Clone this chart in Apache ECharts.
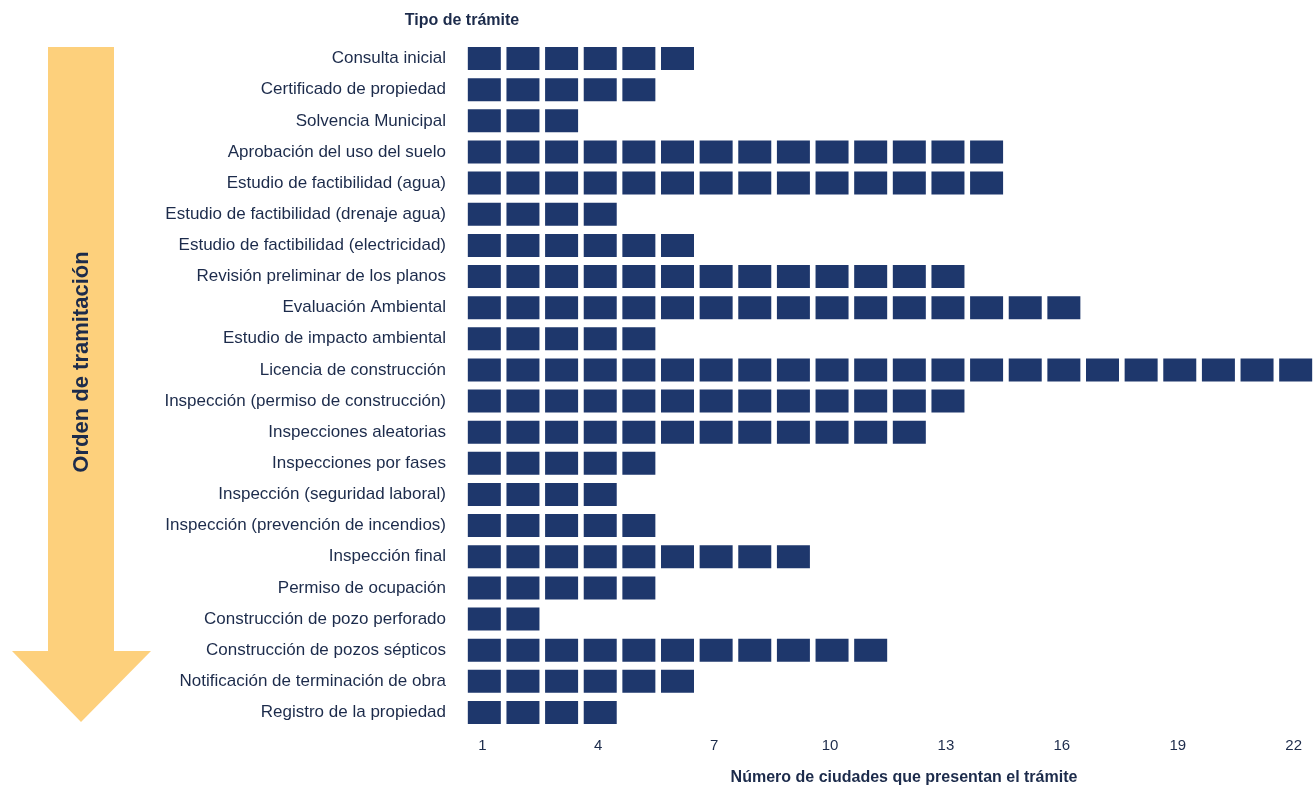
<!DOCTYPE html>
<html>
<head>
<meta charset="utf-8">
<script src="https://cdn.jsdelivr.net/npm/echarts@6/dist/echarts.min.js"></script>
<style>
html,body{margin:0;padding:0;background:#ffffff;}
#chart{width:1315px;height:785px;}
</style>
</head>
<body>
<div id="chart"></div>
<script>
const categories = [
  'Consulta inicial',
  'Certificado de propiedad',
  'Solvencia Municipal',
  'Aprobación del uso del suelo',
  'Estudio de factibilidad (agua)',
  'Estudio de factibilidad (drenaje agua)',
  'Estudio de factibilidad (electricidad)',
  'Revisión preliminar de los planos',
  'Evaluación Ambiental',
  'Estudio de impacto ambiental',
  'Licencia de construcción',
  'Inspección (permiso de construcción)',
  'Inspecciones aleatorias',
  'Inspecciones por fases',
  'Inspección (seguridad laboral)',
  'Inspección (prevención de incendios)',
  'Inspección final',
  'Permiso de ocupación',
  'Construcción de pozo perforado',
  'Construcción de pozos sépticos',
  'Notificación de terminación de obra',
  'Registro de la propiedad'
];
const cityCounts = [6, 5, 3, 14, 14, 4, 6, 13, 16, 5, 22, 13, 12, 5, 4, 5, 9, 5, 2, 11, 6, 4];
const xTickLabels = ['1','2','3','4','5','6','7','8','9','10','11','12','13','14','15','16','17','18','19','20','21','22'];

const NAVY = '#1e376c';
const TEXT = '#1c2b4b';
const FONT = '"Liberation Sans", Arial, sans-serif';

// one square per city: build points from the counts
const points = [];
cityCounts.forEach((n, row) => {
  for (let i = 0; i < n; i++) points.push([xTickLabels[i], categories[row]]);
});

const chart = echarts.init(document.getElementById('chart'));
chart.setOption({
  animation: false,
  backgroundColor: '#ffffff',
  textStyle: { fontFamily: FONT },
  title: [
    { text: 'Tipo de trámite', left: 457, top: 8, textAlign: 'center',
      textStyle: { fontFamily: FONT, fontSize: 16, fontWeight: 'bold', color: TEXT } },
    { text: 'Número de ciudades que presentan el trámite', left: 899, top: 765, textAlign: 'center',
      textStyle: { fontFamily: FONT, fontSize: 16, fontWeight: 'bold', color: TEXT } }
  ],
  grid: { left: 465, top: 43, width: 855, height: 685, containLabel: false },
  xAxis: {
    type: 'category',
    data: xTickLabels,
    axisLine: { show: false },
    axisTick: { show: false },
    splitLine: { show: false },
    axisLabel: { interval: 2, margin: 10, fontSize: 15, color: TEXT, fontFamily: FONT, padding: [0, 4, 0, 0] }
  },
  yAxis: {
    type: 'category',
    data: categories,
    inverse: true,
    axisLine: { show: false },
    axisTick: { show: false },
    splitLine: { show: false },
    axisLabel: { margin: 19, fontSize: 17, color: TEXT, fontFamily: FONT }
  },
  graphic: [
    { type: 'polygon', silent: true,
      shape: { points: [[48,47],[114,47],[114,651],[151,651],[81,722],[12,651],[48,651]] },
      style: { fill: '#fdd07c' } },
    { type: 'text', silent: true, x: 82, y: 362, rotation: Math.PI / 2,
      style: { text: 'Orden de tramitación', fill: TEXT, font: 'bold 22px ' + FONT,
               align: 'center', verticalAlign: 'middle' } }
  ],
  series: [{
    type: 'scatter',
    symbol: 'rect',
    symbolSize: [33, 23],
    itemStyle: { color: NAVY, opacity: 1 },
    data: points
  }]
});
</script>
</body>
</html>
